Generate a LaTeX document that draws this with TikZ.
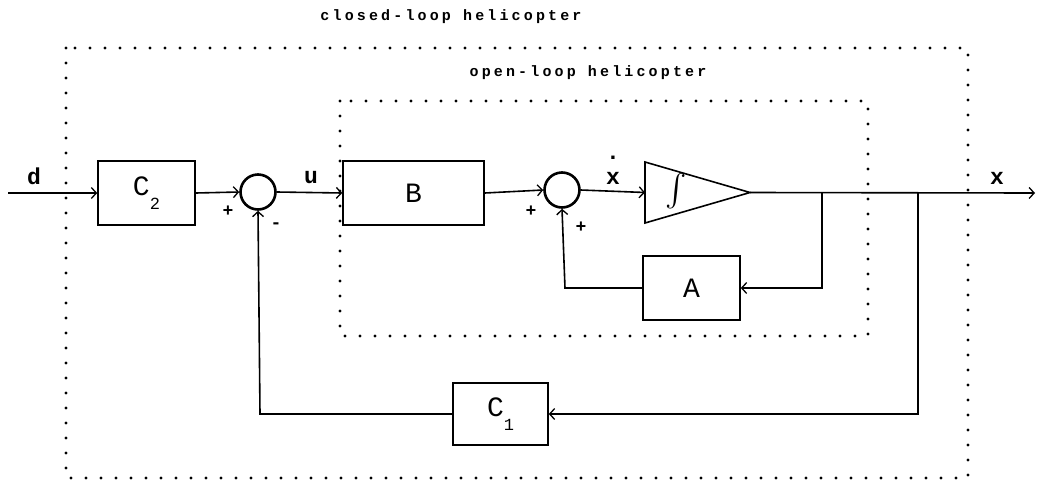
\documentclass[tikz,border=0pt]{standalone}
\usepackage{fontspec}
\usepackage{graphicx}
\setmonofont{Liberation Mono}
\newfontfamily\lblfont[LetterSpace=21]{Liberation Mono}
\usetikzlibrary{arrows.meta}
\begin{document}
\begin{tikzpicture}[x=1pt,y=-1pt,
  line width=1.6pt,
  arr/.style={-{Straight Barb[length=5pt,width=11pt,line width=1.3pt]}},
  blk/.style={draw,rectangle,minimum width=#1,minimum height=64pt,inner sep=0pt,font=\ttfamily\fontsize{28}{28}\selectfont},
  sumc/.style={draw,circle,minimum size=35pt,inner sep=0pt,line width=2.6pt},
  dotbox/.style={draw,line width=3.2pt,line cap=round,dash pattern=on 0pt off 15pt},
  sig/.style={font=\ttfamily\bfseries\fontsize{18}{18}\selectfont,inner sep=0pt},
  var/.style={font=\ttfamily\bfseries\fontsize{23}{23}\selectfont,inner sep=0pt},
  ttl/.style={font=\lblfont\bfseries\fontsize{15}{15}\selectfont,inner sep=0pt}]
\useasboundingbox (0,0) rectangle (1037,480);
% dotted frames
\draw[dotbox] (66,48) rectangle (968,478);
\draw[dotbox] (340,101) rectangle (868,336);
\node[ttl] (t1) at (451,17) {closed-loop helicopter};
\node[ttl] (t2) at (588,73) {open-loop helicopter};
% blocks
\node[blk=97pt] (c2) at (146.5,193) {C\raisebox{-14pt}{\fontsize{17}{17}\selectfont 2}};
\node[sumc] (s1) at (258,192) {};
\node[blk=141pt] (b) at (413.5,193) {B};
\node[sumc] (s2) at (562,190) {};
% integrator triangle
\coordinate (intw) at (645,192.5);
\coordinate (inte) at (750,192.5);
\draw[line join=miter] (645,162) -- (inte) -- (645,223) -- cycle;
\node (intsym) at (676,191) {\scalebox{3.2}{$\int$}};
\node[blk=97pt] (a) at (691.5,288) {A};
\node[blk=95pt,minimum height=62pt] (c1) at (500.5,414) {C\raisebox{-14pt}{\fontsize{17}{17}\selectfont 1}};
% coordinates
\coordinate (in) at (8,193);
\coordinate (out) at (1035,193);
\coordinate (br1) at (822,193);
\coordinate (br2) at (918,193);
\coordinate (br1d) at (822,288);
\coordinate (br2d) at (918,414);
\coordinate (fa) at (565,288);
\coordinate (fc) at (260,414);
% connectors
\draw[arr] (in) -- (c2.west);
\draw[arr] (c2.east) -- (s1.west);
\draw[arr] (s1.east) -- (b.west);
\draw[arr] (b.east) -- (s2.west);
\draw[arr] (s2.east) -- (intw);
\draw[arr] (inte) -- (out);
\draw[arr] (br1) -- (br1d) -- (a.east);
\draw[arr] (a.west) -- (fa) -- (s2.south);
\draw[arr] (br2) -- (br2d) -- (c1.east);
\draw[arr] (c1.west) -- (fc) -- (s1.south);
% labels
\node[var] (ld) at (34,176) {d};
\node[var] (lu) at (311,178) {u};
\node[var] (lxd) at (613,178) {x};
\node[var] (ldot) at (613,158) {.};
\node[var] (lx) at (997,178) {x};
\node[sig] (p1) at (228,211) {+};
\node[sig] (m1) at (276,226) {-};
\node[sig] (p2) at (531,211) {+};
\node[sig] (p3) at (581,227) {+};
\end{tikzpicture}
\end{document}
